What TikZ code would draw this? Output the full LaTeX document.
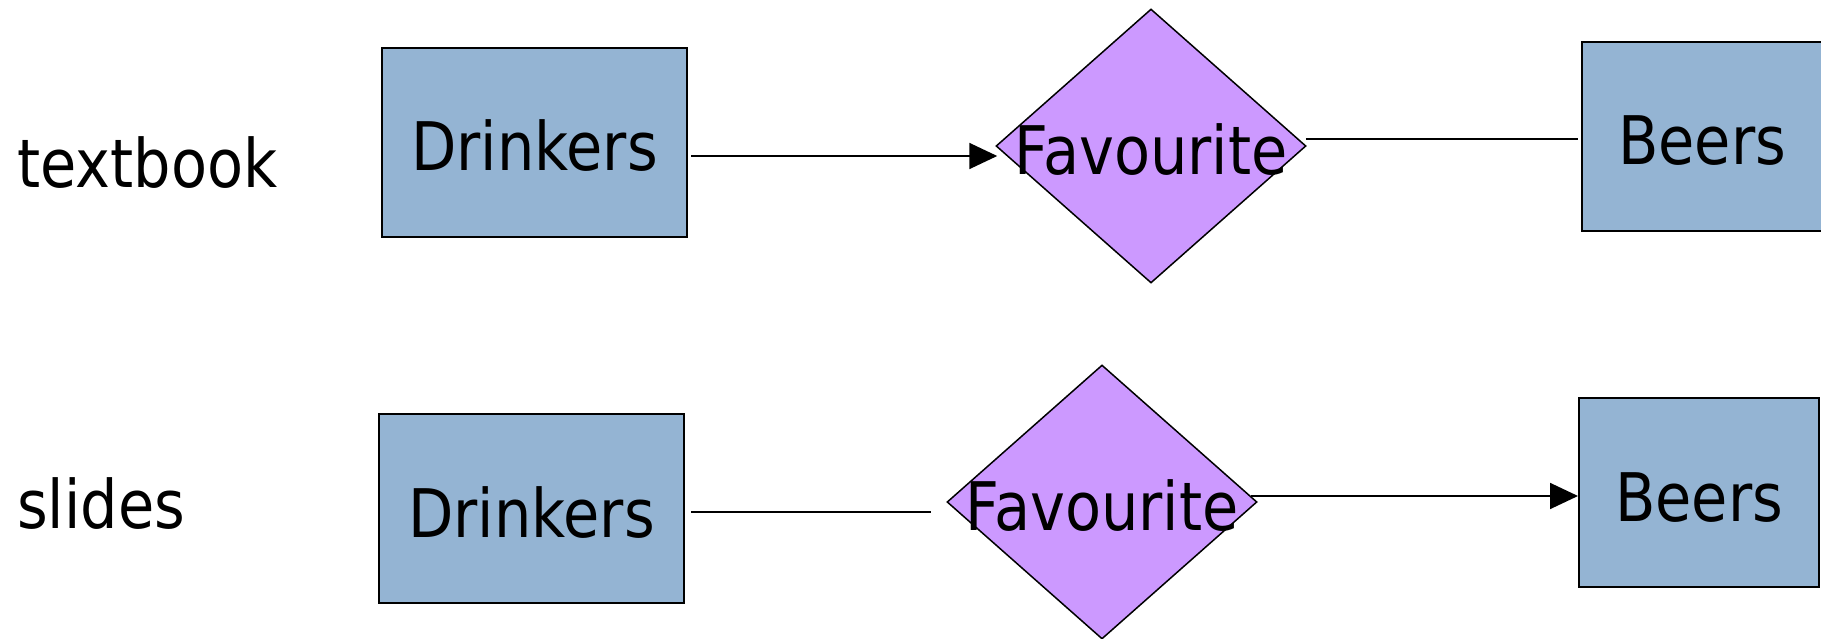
\documentclass[tikz,border=0pt]{standalone}
\usepackage{fontspec}
\setmainfont{DejaVu Sans}[FakeStretch=0.88]
\usetikzlibrary{shapes.geometric,arrows.meta}
\definecolor{entityblue}{RGB}{148,180,211}
\definecolor{relviolet}{RGB}{204,153,255}
\begin{document}
\begin{tikzpicture}[x=1pt,y=-1pt,
  lbl/.style={font=\fontsize{67}{80}\selectfont, inner sep=0pt, text height=57pt, text depth=0pt},
  entity/.style={lbl, draw=black, line width=2pt, fill=entityblue, rectangle,
    minimum height=189pt},
  rel/.style={draw=black, line width=1.5pt, fill=relviolet, diamond, inner sep=0pt,
    minimum width=310pt, minimum height=274pt},
  link/.style={draw=black, line width=1.8pt},
  tip/.style={-{Triangle[length=28pt,width=26pt]}},
  rowlabel/.style={font=\fontsize{67}{80}\selectfont, inner sep=0pt, anchor=base west}]
\useasboundingbox (0,0) rectangle (1821,639);
\clip (0,0) rectangle (1821,639);

% row labels
\node[rowlabel] (ltb) at (17,188) {textbook};
\node[rowlabel] (lsl) at (17,528) {slides};

% textbook version
\node[entity, minimum width=305pt] (d1) at (534.5,142.5) {Drinkers};
\node[rel] (f1) at (1151,146) {};
\node[lbl] (f1t) at (f1.center) {Favourite};
\node[entity, minimum width=240pt] (b1) at (1702,136.5) {Beers};
\draw[link,tip] ([shift={(3,13.5)}]d1.east) -- ([shift={(2,10)}]f1.west);
\draw[link] ([shift={(-1,-7)}]f1.east) -- ([shift={(-3,2.5)}]b1.west);

% slides version
\node[entity, minimum width=305pt] (d2) at (531.5,508.5) {Drinkers};
\node[rel] (f2) at (1102,502) {};
\node[lbl] (f2t) at (f2.center) {Favourite};
\node[entity, minimum width=240pt] (b2) at (1699,492.5) {Beers};
\draw[link] ([shift={(6,3.5)}]d2.east) -- ([shift={(-15,10)}]f2.west);
\draw[link,tip] ([shift={(-7,-6)}]f2.east) -- ([shift={(0,3.5)}]b2.west);
\end{tikzpicture}
\end{document}
